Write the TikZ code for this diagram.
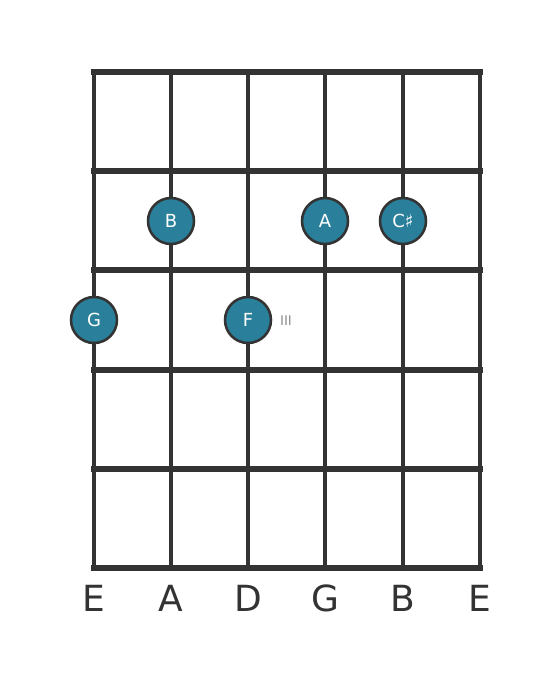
\documentclass[tikz,border=0pt]{standalone}
\usepackage{fontspec}
\setmainfont{DejaVu Sans}
\begin{document}
\begin{tikzpicture}[x=0.75pt,y=-0.75pt,
  strline/.style={line width=2.4pt, draw=black!80},
  fretline/.style={line width=3.9pt, draw=black!80, line cap=rect},
  dot/.style={circle, minimum size=46*0.75pt, inner sep=0pt, fill={rgb,255:red,42;green,127;blue,154}, draw=black!80, line width=1.9pt, text=white, font=\fontsize{13.5}{13.5}\selectfont},
  slabel/.style={text=black!80, font=\fontsize{27}{27}\selectfont, anchor=base},
  finger/.style={text=black!45, font=\fontsize{10}{10}\selectfont}]
\useasboundingbox (0,0) rectangle (560,682);
\foreach \x/\n in {94/s1,171/s2,248/s3,325/s4,403/s5,480/s6} {
  \coordinate (\n t) at (\x,72);
  \coordinate (\n b) at (\x,568);
  \draw[strline] (\n t) -- (\n b);
}
\foreach \y/\n in {72/f0,171/f1,270/f2,370/f3,469/f4,568/f5} {
  \coordinate (\n l) at (94,\y);
  \coordinate (\n r) at (480,\y);
  \draw[fretline] (\n l) -- (\n r);
}
\node[dot] (nB) at (171,221) {B};
\node[dot] (nA) at (325,221) {A};
\node[dot] (nC) at (403,221) {C♯};
\node[dot] (nG) at (94,320) {G};
\node[dot] (nF) at (248,320) {F};
\node[finger] (fIII) at (286,321) {III};
\node[slabel] (l1) at (94,611) {E};
\node[slabel] (l2) at (171,611) {A};
\node[slabel] (l3) at (248,611) {D};
\node[slabel] (l4) at (325,611) {G};
\node[slabel] (l5) at (403,611) {B};
\node[slabel] (l6) at (480,611) {E};
\end{tikzpicture}
\end{document}
